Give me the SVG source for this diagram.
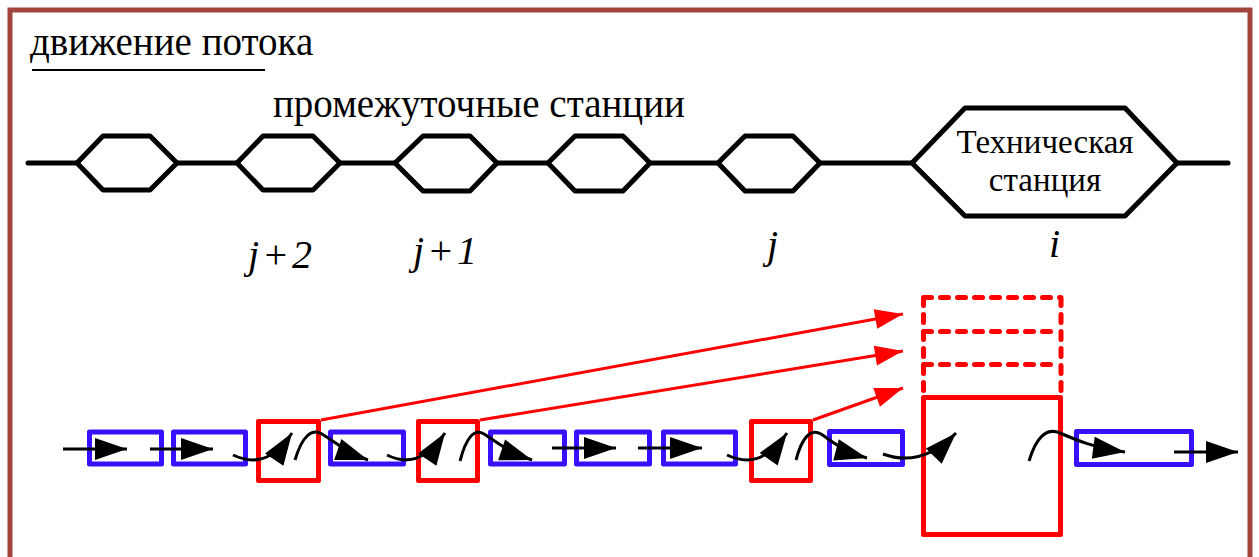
<svg xmlns="http://www.w3.org/2000/svg" width="1259" height="557" viewBox="0 0 1259 557">
<defs>
<marker id="ab" markerUnits="userSpaceOnUse" markerWidth="34" markerHeight="24" refX="32" refY="11" orient="auto" overflow="visible"><path d="M0,0 L32,11 L0,22 z" fill="#000"/></marker>
<marker id="ar" markerUnits="userSpaceOnUse" markerWidth="30" markerHeight="22" refX="28" refY="10" orient="auto" overflow="visible"><path d="M0,0 L28,10 L0,20 z" fill="#ff0000"/></marker>
</defs>
<style>
.t{font-family:"Liberation Serif","Times New Roman",serif;fill:#000}
.it{font-family:"Liberation Serif","Times New Roman",serif;font-style:italic;font-size:40px;fill:#000}
.hex{fill:#fff;stroke:#000;stroke-width:5;stroke-linejoin:round}
.blue{fill:none;stroke:#3810ff;stroke-width:5;stroke-linejoin:round}
.red{fill:none;stroke:#ff0000;stroke-width:5;stroke-linejoin:round}
.dash{fill:none;stroke:#ff0000;stroke-width:5;stroke-dasharray:8 9;stroke-linecap:round}
.ra{fill:none;stroke:#ff0000;stroke-width:3;marker-end:url(#ar)}
.ba{fill:none;stroke:#000;stroke-width:3;marker-end:url(#ab)}
</style>
<rect x="10" y="10" width="1240" height="570" fill="#fff" stroke="#a2443c" stroke-width="5"/>
<g id="legend">
<text class="t" x="30" y="55" font-size="39">движение потока</text>
<line x1="32" y1="70" x2="265" y2="70" stroke="#000" stroke-width="2"/>
</g>
<text class="t" x="273" y="117" font-size="39">промежуточные станции</text>
<g id="track">
<line x1="28" y1="163" x2="1228" y2="163" stroke="#000" stroke-width="5" stroke-linecap="round"/>
</g>
<g id="st-j3"><polygon class="hex" points="77,163 103,136 150,136 177,163 150,190 103,190"/></g>
<g id="st-j2"><polygon class="hex" points="237,163 263,136 313,136 340,163 313,190 263,190"/><text class="it" x="248" y="268" letter-spacing="3">j+2</text></g>
<g id="st-j1"><polygon class="hex" points="395,163 423,136 470,136 497,163 470,191 423,191"/><text class="it" x="413" y="264" letter-spacing="3">j+1</text></g>
<g id="st-x"><polygon class="hex" points="548,163 575,136 623,136 650,163 623,191 575,191"/></g>
<g id="st-j"><polygon class="hex" points="718,163 745,136 793,136 820,163 793,191 745,191"/><text class="it" x="767" y="258">j</text></g>
<g id="st-i"><polygon class="hex" points="912,163 965,108 1125,108 1177,163 1125,216 965,216"/>
<text class="t" x="1045" y="153" font-size="33" text-anchor="middle">Техническая</text>
<text class="t" x="1045" y="191" font-size="33" text-anchor="middle">станция</text>
<text class="it" x="1049" y="257">i</text></g>
<g id="wagons">
<rect class="blue" x="89.5" y="432" width="72" height="32"/>
<rect class="blue" x="173.5" y="432" width="72" height="32"/>
<rect class="red" x="258.5" y="421.5" width="60" height="59"/>
<rect class="blue" x="330.5" y="432" width="73" height="32"/>
<rect class="red" x="418.5" y="421.5" width="59" height="59"/>
<rect class="blue" x="490.5" y="432" width="74" height="32"/>
<rect class="blue" x="576.5" y="432" width="73" height="32"/>
<rect class="blue" x="663.5" y="432" width="72" height="32"/>
<rect class="red" x="751.5" y="421.5" width="59" height="59"/>
<rect class="blue" x="829.5" y="431.5" width="73" height="33"/>
<rect class="red" x="923.5" y="397.5" width="137" height="137"/>
<rect class="blue" x="1076.5" y="431.5" width="115" height="33"/>
</g>
<g id="slots">
<path class="dash" d="M923.5,297.5 H1061 M923.5,331.5 H1059 M923.5,364.5 H1059 M923.5,297.5 V395 M1061,297.5 V395"/>
</g>
<g id="connectors">
<path class="ra" d="M321,420 L903,314"/>
<path class="ra" d="M480,420 L903,351"/>
<path class="ra" d="M813,420 L903,388"/>
<path class="ba" d="M63,449 L127,449"/>
<path class="ba" d="M150,449 L213,449"/>
<path class="ba" d="M233,455 C252,464 272,463 292,433"/>
<path class="ba" d="M295,460 C302,436 312,428 322,434 C335,442 345,452 368,460"/>
<path class="ba" d="M387,455 C405,464 425,463 445,433"/>
<path class="ba" d="M460,461 C466,438 474,428 484,434 C497,442 508,452 532,460"/>
<path class="ba" d="M552,448 L616,448"/>
<path class="ba" d="M638,448 L702,448"/>
<path class="ba" d="M727,455 C746,464 766,463 787,433"/>
<path class="ba" d="M796,460 C802,437 811,428 821,434 C833,442 844,452 867,458"/>
<path class="ba" d="M883,454 C905,462 930,460 956,433"/>
<path class="ba" d="M1029,461 C1036,438 1046,427 1060,433 C1076,440 1095,448 1125,452"/>
<path class="ba" d="M1174,452 L1238,452"/>
</g>
</svg>
